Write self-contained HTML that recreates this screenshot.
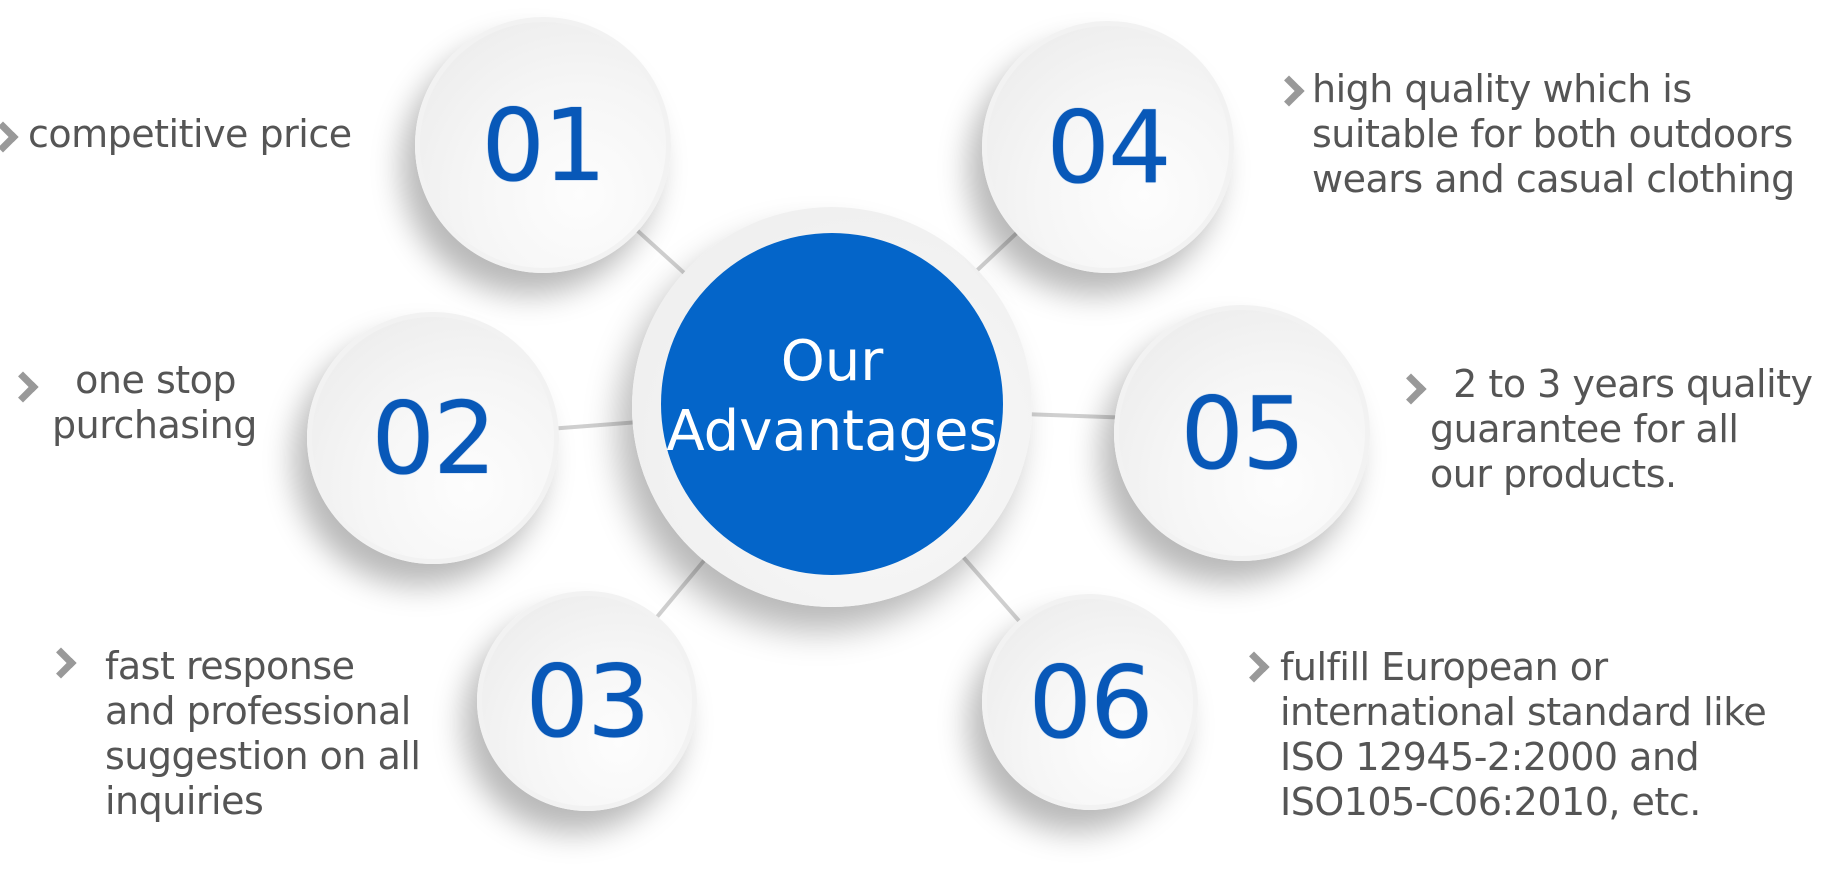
<!DOCTYPE html>
<html><head><meta charset="utf-8"><style>
html,body{margin:0;padding:0;background:#fff;}
body{width:1824px;height:881px;position:relative;overflow:hidden;font-family:"DejaVu Sans","Liberation Sans",sans-serif;}
.c{position:absolute;border-radius:50%;background:radial-gradient(circle at 65% 70%,#fdfdfd 0%,#f6f6f6 45%,#e9e9e9 100%);border:5px solid #f2f2f2;box-sizing:border-box;box-shadow:-14px 22px 30px rgba(0,0,0,0.28);display:flex;align-items:center;justify-content:center;color:#0858b8;font-size:100px;letter-spacing:-2px;text-shadow:0 0 1px #3a7fd0;}
.t{position:absolute;color:#555;font-size:38px;line-height:45px;white-space:nowrap;letter-spacing:-0.5px;}
.ch{position:absolute;width:15px;height:15px;border-right:7px solid #999;border-top:7px solid #999;transform:rotate(45deg);}
</style></head><body>
<svg width="1824" height="881" style="position:absolute;left:0;top:0">
<g stroke="#cfcfcf" stroke-width="4">
<line x1="832" y1="407" x2="543" y2="145"/>
<line x1="832" y1="407" x2="433" y2="438"/>
<line x1="832" y1="407" x2="587" y2="701"/>
<line x1="832" y1="407" x2="1108" y2="147"/>
<line x1="832" y1="407" x2="1242" y2="422"/>
<line x1="832" y1="407" x2="1090" y2="702"/>
</g></svg>
<div style="position:absolute;left:632px;top:207px;width:400px;height:400px;border-radius:50%;background:radial-gradient(circle at 60% 60%,#fafafa,#ececec);box-shadow:-14px 24px 34px rgba(0,0,0,0.28);"></div>
<div style="position:absolute;left:661px;top:233px;width:342px;height:342px;border-radius:50%;background:#0465c9;color:#fff;font-size:56px;line-height:70px;text-align:center;display:flex;align-items:center;justify-content:center;"><div style="margin-top:-14px">Our<br>Advantages</div></div>
<div class="c" style="left:415px;top:17px;width:256px;height:256px;">01</div>
<div class="c" style="left:307px;top:312px;width:252px;height:252px;">02</div>
<div class="c" style="left:477px;top:591px;width:220px;height:220px;">03</div>
<div class="c" style="left:982px;top:21px;width:252px;height:252px;">04</div>
<div class="c" style="left:1114px;top:305px;width:256px;height:256px;">05</div>
<div class="c" style="left:982px;top:594px;width:216px;height:216px;">06</div>

<div class="ch" style="left:-8px;top:126px"></div>
<div class="t" style="left:28px;top:112px;">competitive price</div>
<div class="ch" style="left:12px;top:376px"></div>
<div class="t" style="left:52px;top:358px;">&nbsp;&nbsp;one stop<br>purchasing</div>
<div class="ch" style="left:50px;top:652px"></div>
<div class="t" style="left:105px;top:644px;">fast response<br>and professional<br>suggestion on all<br>inquiries</div>
<div class="ch" style="left:1278px;top:80px"></div>
<div class="t" style="left:1312px;top:67px;">high quality which is<br>suitable for both outdoors<br>wears and casual clothing</div>
<div class="ch" style="left:1400px;top:378px"></div>
<div class="t" style="left:1430px;top:362px;">&nbsp;&nbsp;2 to 3 years quality<br>guarantee for all<br>our products.</div>
<div class="ch" style="left:1243px;top:656px"></div>
<div class="t" style="left:1280px;top:645px;">fulfill European or<br>international standard like<br>ISO 12945-2:2000 and<br>ISO105-C06:2010, etc.</div>
</body></html>
